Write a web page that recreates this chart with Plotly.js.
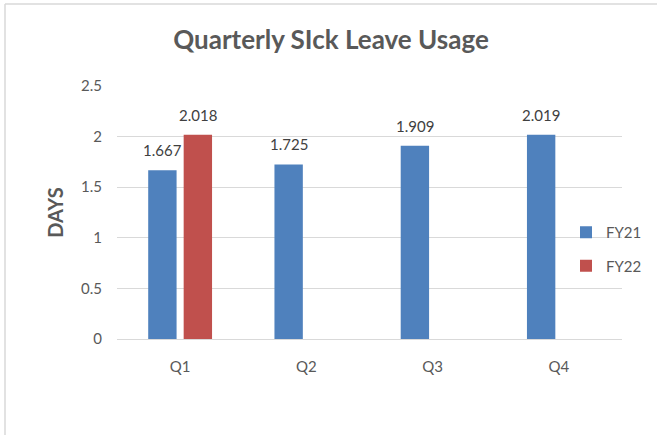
<!DOCTYPE html>
<html>
<head>
<meta charset="utf-8">
<script src="https://cdn.plot.ly/plotly-3.0.1.min.js"></script>
<style>html,body{margin:0;padding:0;background:#fff;}#chart{width:657px;height:435px;}</style>
</head>
<body>
<div id="chart"></div>
<script>
const quarters = ['Q1', 'Q2', 'Q3', 'Q4'];
const fy21 = [1.667, 1.725, 1.909, 2.019];
const fy22 = [2.018, null, null, null];
const seriesNames = ['FY21', 'FY22'];
const yTicks = [0, 0.5, 1, 1.5, 2, 2.5];
const yTickText = ['0', '0.5', '1', '1.5', '2', '2.5'];

const FONT = 'Lato, "Open Sans", sans-serif';

function bar(name, vals, color, group) {
  return {
    type: 'bar', name: name, x: quarters, y: vals,
    legendgroup: group,
    marker: {color: color, line: {width: 0}},
    hoverinfo: 'x+y'
  };
}

const data = [
  bar(seriesNames[0], fy21, '#4F81BD', 'a'),
  bar(seriesNames[1], fy22, '#C0504D', 'b')
];

// value labels above each bar, built from the series arrays
const BAR_OFFSET = 17.75; // px from category centre (grouped bars)
const series = [fy21, fy22];
const annotations = [];
series.forEach((vals, si) => {
  vals.forEach((v, qi) => {
    if (v === null) return;
    annotations.push({
      x: quarters[qi], y: v, xref: 'x', yref: 'y',
      text: String(v), showarrow: false,
      xanchor: 'center', yanchor: 'bottom',
      xshift: (si === 0 ? -1 : 1) * BAR_OFFSET, yshift: 9,
      font: {family: FONT, size: 15, color: '#404040'}
    });
  });
});

// plot area: x 117..622, y 86..339
const PW = 505, PH = 253;
const layout = {
  width: 657, height: 435,
  margin: {l: 117, r: 35, t: 86, b: 96, autoexpand: false},
  paper_bgcolor: '#ffffff', plot_bgcolor: 'rgba(0,0,0,0)',
  font: {family: FONT, color: '#595959', size: 15},
  title: {
    text: '<b>Quarterly SIck Leave Usage</b>',
    font: {family: FONT, size: 26, color: '#595959'},
    xref: 'container', yref: 'container',
    x: 331/657, y: 1 - 40/435, xanchor: 'center', yanchor: 'middle'
  },
  barmode: 'group', bargap: 0.438, bargroupgap: 0.2,
  xaxis: {
    type: 'category', showgrid: false, zeroline: false,
    showline: true, linecolor: '#d9d9d9', linewidth: 1,
    ticks: '', ticklabelstandoff: 14,
    tickfont: {family: FONT, size: 15, color: '#595959'}
  },
  yaxis: {
    range: [0, 2.5], tickvals: yTicks, ticktext: yTickText,
    showgrid: true, gridcolor: '#d9d9d9', gridwidth: 1,
    zeroline: false, showline: false, ticks: '', ticklabelstandoff: 14,
    tickfont: {family: FONT, size: 15, color: '#595959'},
    title: {text: '<b>DAYS</b>', font: {family: FONT, size: 20, color: '#595959'}, standoff: 12}
  },
  legend: {
    x: (566 - 117) / PW, xanchor: 'left', y: (339 - 216) / PH, yanchor: 'top',
    bgcolor: 'rgba(0,0,0,0)', borderwidth: 0,
    font: {family: FONT, size: 15, color: '#595959'},
    tracegroupgap: 11, itemwidth: 30
  },
  annotations: annotations,
  shapes: [
    {type: 'line', xref: 'paper', yref: 'paper', x0: (5 - 117) / PW, x1: (660 - 117) / PW, y0: (339 - 4) / PH, y1: (339 - 4) / PH, line: {color: '#d9d9d9', width: 1.5}},
    {type: 'line', xref: 'paper', yref: 'paper', x0: (5 - 117) / PW, x1: (5 - 117) / PW, y0: (339 - 4) / PH, y1: (339 - 440) / PH, line: {color: '#d9d9d9', width: 1.5}}
  ]
};

Plotly.newPlot('chart', data, layout, {displayModeBar: false, staticPlot: true});
</script>
</body>
</html>
